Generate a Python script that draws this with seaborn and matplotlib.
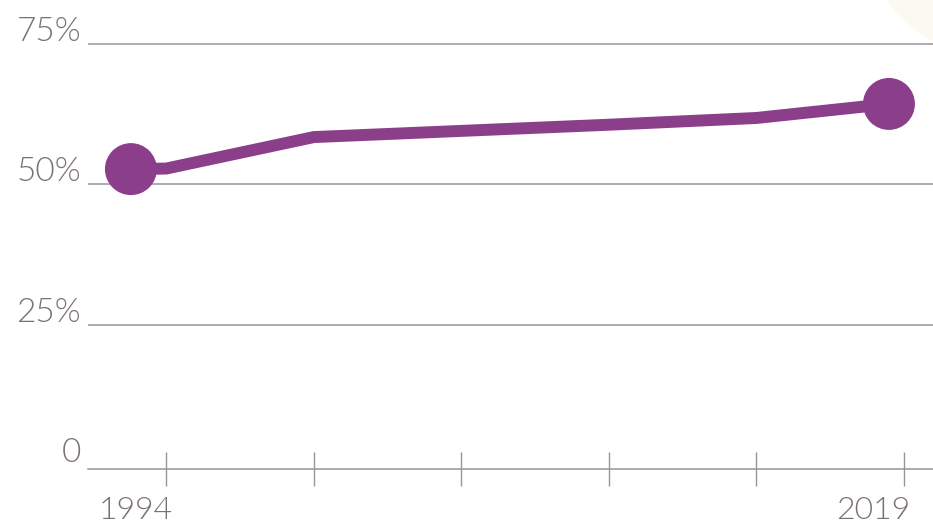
import matplotlib
matplotlib.use("Agg")
import matplotlib.pyplot as plt
import matplotlib.transforms as mtransforms
from matplotlib import font_manager as fm
from matplotlib.patches import Ellipse
import seaborn as sns
import pandas as pd

# Share of the line series (percent), positions on the year axis
line_x = [1992.8, 1994, 1999, 2004, 2009, 2014, 2018.5]
line_y = [52.7, 52.8, 58.4, 59.5, 60.6, 61.8, 64.3]

# Tick marks on the year axis and which of them carry a label
tick_years = [1994, 1999, 2004, 2009, 2014, 2019]
tick_labels = ["1994", "", "", "", "", "2019"]

# Percentage gridlines
pct_ticks = [0, 25, 50, 75]
pct_labels = ["0", "25%", "50%", "75%"]

PURPLE = "#8b3f8a"
GREY_TEXT = "#7a7176"
GREY_LINE = "#9a9398"

sns.set_theme(style="white")
plt.rcParams["font.family"] = ["Lato", "DejaVu Sans"]


def label_font():
    """Pick a light sans face for the axis labels if one is installed."""
    for family in ["Lato", "Open Sans", "Roboto"]:
        for f in fm.fontManager.ttflist:
            if f.name == family and f.weight == 300 and f.style == "normal":
                return fm.FontProperties(fname=f.fname)
    return fm.FontProperties(family=["Lato", "DejaVu Sans"])


DPI = 100
fig = plt.figure(figsize=(9.33, 5.23), dpi=DPI)
fig.patch.set_facecolor("white")

# soft cream disc peeking in from the top-right corner
fig.patches.append(Ellipse((1000 / 933, (523 + 80) / 523), 278 / 933, 278 / 523,
                           transform=fig.transFigure, facecolor="#fcf8f2",
                           edgecolor="none", zorder=0))

ax = fig.add_axes([88 / 933, 54 / 523, 845 / 933, 469 / 523])
ax.patch.set_alpha(0)

df = pd.DataFrame({"year": line_x, "share": line_y})
sns.lineplot(data=df, x="year", y="share", ax=ax, color=PURPLE, lw=8.6,
             solid_joinstyle="round", solid_capstyle="round", zorder=3)
ends = df.iloc[[0, -1]]
sns.scatterplot(data=ends, x="year", y="share", ax=ax, color=PURPLE, s=1400,
                edgecolor="none", linewidth=0, zorder=4)

ax.set_xlim(1991.345, 2019.994)
ax.set_ylim(-0.68, 82.8)

for v in pct_ticks[1:]:
    ax.axhline(v, color=GREY_LINE, lw=1.1, zorder=1)

for side in ["top", "right", "left"]:
    ax.spines[side].set_visible(False)
ax.spines["bottom"].set_color(GREY_LINE)
ax.spines["bottom"].set_linewidth(1.1)

ax.set_xlabel("")
ax.set_ylabel("")

fp = label_font()

# year axis: ticks straddle the baseline, labels hang right-aligned under the tick
ax.set_xticks(tick_years)
ax.set_xticklabels(tick_labels)
ax.tick_params(axis="x", bottom=True, direction="inout", length=23.8, width=1.0,
               color=GREY_LINE, pad=24.3, labelcolor=GREY_TEXT)
shift_x = mtransforms.ScaledTranslation(7 / DPI, 0, fig.dpi_scale_trans)
for lab in ax.get_xticklabels():
    lab.set_fontproperties(fp)
    lab.set_fontsize(23)
    lab.set_ha("right")
    lab.set_va("baseline")
    lab.set_transform(lab.get_transform() + shift_x)

# percentage axis: labels sit just above their gridline
ax.set_yticks(pct_ticks)
ax.set_yticklabels(pct_labels)
ax.tick_params(axis="y", left=False, length=0, pad=5, labelcolor=GREY_TEXT)
shift_y = mtransforms.ScaledTranslation(0, 3 / DPI, fig.dpi_scale_trans)
for lab in ax.get_yticklabels():
    lab.set_fontproperties(fp)
    lab.set_fontsize(24)
    lab.set_va("baseline")
    lab.set_transform(lab.get_transform() + shift_y)

ax.grid(False)
fig.savefig("out.png", dpi=DPI, facecolor="white")
